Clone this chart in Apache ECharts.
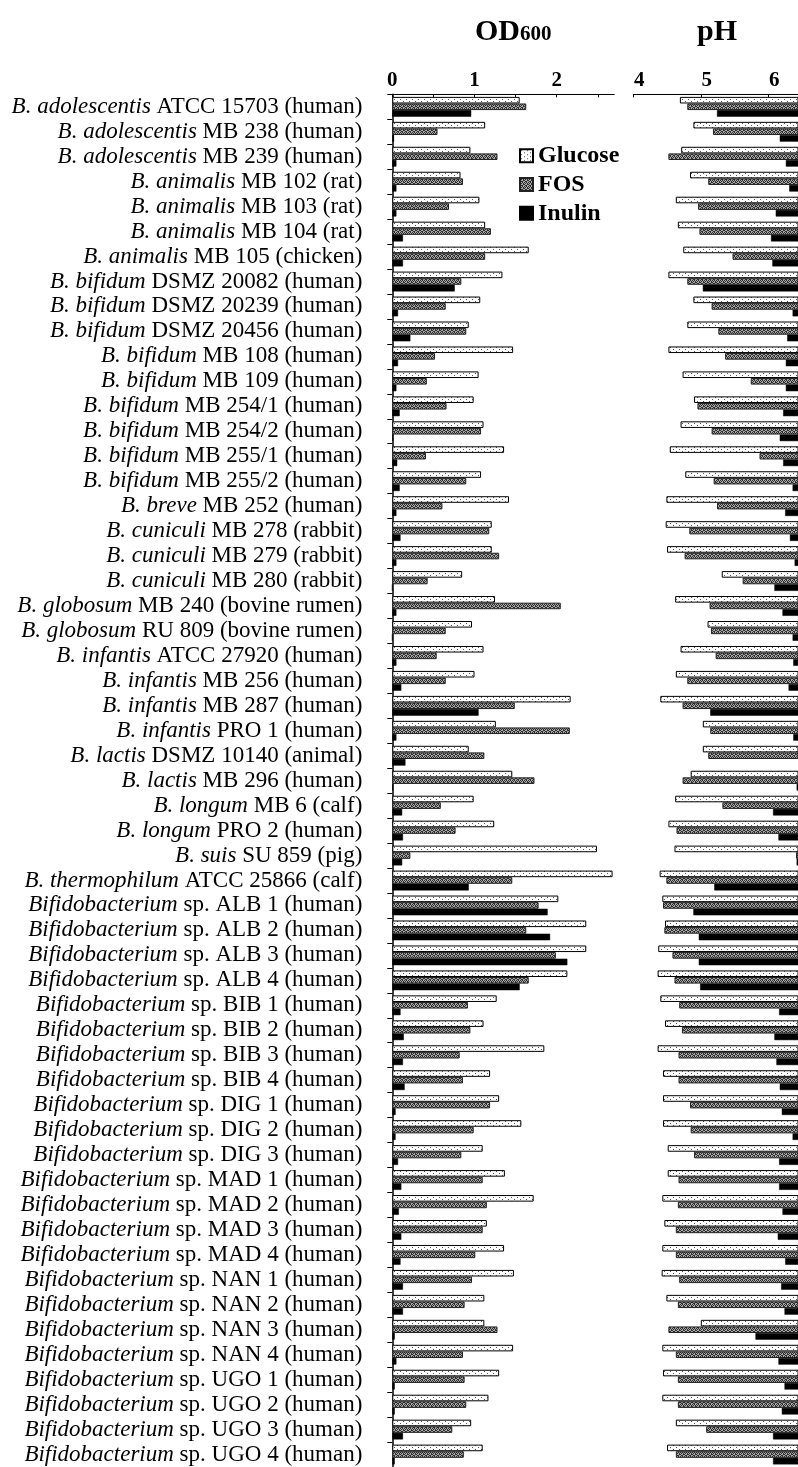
<!DOCTYPE html>
<html><head><meta charset="utf-8">
<script src="https://cdn.jsdelivr.net/npm/echarts@6/dist/echarts.min.js"></script>
<style>html,body{margin:0;padding:0;background:#fff}#c{width:798px;height:1467px}</style>
</head><body><div id="c"></div><script>
// ---- DATA ----
const species = ['B. adolescentis','B. adolescentis','B. adolescentis','B. animalis','B. animalis','B. animalis','B. animalis',
 'B. bifidum','B. bifidum','B. bifidum','B. bifidum','B. bifidum','B. bifidum','B. bifidum','B. bifidum','B. bifidum',
 'B. breve','B. cuniculi','B. cuniculi','B. cuniculi','B. globosum','B. globosum','B. infantis','B. infantis','B. infantis','B. infantis',
 'B. lactis','B. lactis','B. longum','B. longum','B. suis','B. thermophilum',
 'Bifidobacterium','Bifidobacterium','Bifidobacterium','Bifidobacterium','Bifidobacterium','Bifidobacterium','Bifidobacterium','Bifidobacterium',
 'Bifidobacterium','Bifidobacterium','Bifidobacterium','Bifidobacterium','Bifidobacterium','Bifidobacterium','Bifidobacterium',
 'Bifidobacterium','Bifidobacterium','Bifidobacterium','Bifidobacterium','Bifidobacterium','Bifidobacterium','Bifidobacterium','Bifidobacterium'];
const strains = ['ATCC 15703 (human)','MB 238 (human)','MB 239 (human)','MB 102 (rat)','MB 103 (rat)','MB 104 (rat)','MB 105 (chicken)',
 'DSMZ 20082 (human)','DSMZ 20239 (human)','DSMZ 20456 (human)','MB 108 (human)','MB 109 (human)','MB 254/1 (human)','MB 254/2 (human)','MB 255/1 (human)','MB 255/2 (human)',
 'MB 252 (human)','MB 278 (rabbit)','MB 279 (rabbit)','MB 280 (rabbit)','MB 240 (bovine rumen)','RU 809 (bovine rumen)','ATCC 27920 (human)','MB 256 (human)','MB 287 (human)','PRO 1 (human)',
 'DSMZ 10140 (animal)','MB 296 (human)','MB 6 (calf)','PRO 2 (human)','SU 859 (pig)','ATCC 25866 (calf)',
 'sp. ALB 1 (human)','sp. ALB 2 (human)','sp. ALB 3 (human)','sp. ALB 4 (human)','sp. BIB 1 (human)','sp. BIB 2 (human)','sp. BIB 3 (human)','sp. BIB 4 (human)',
 'sp. DIG 1 (human)','sp. DIG 2 (human)','sp. DIG 3 (human)','sp. MAD 1 (human)','sp. MAD 2 (human)','sp. MAD 3 (human)','sp. MAD 4 (human)',
 'sp. NAN 1 (human)','sp. NAN 2 (human)','sp. NAN 3 (human)','sp. NAN 4 (human)','sp. UGO 1 (human)','sp. UGO 2 (human)','sp. UGO 3 (human)','sp. UGO 4 (human)'];
const odGlucose = [1.55,1.13,0.95,0.83,1.06,1.13,1.66,1.34,1.07,0.93,1.47,1.05,0.99,1.11,1.36,1.08,1.42,1.21,1.21,0.85,1.25,0.97,1.11,1.00,2.17,1.26,0.93,1.46,0.99,1.24,2.49,2.68,2.02,2.36,2.36,2.13,1.27,1.11,1.85,1.19,1.30,1.57,1.10,1.37,1.72,1.15,1.36,1.48,1.12,1.12,1.47,1.30,1.17,0.96,1.10];
const odFOS = [1.63,0.55,1.28,0.86,0.69,1.20,1.13,0.84,0.65,0.90,0.52,0.42,0.66,1.08,0.41,0.90,0.61,1.18,1.30,0.43,2.05,0.65,0.54,0.65,1.49,2.16,1.12,1.73,0.59,0.77,0.22,1.46,1.78,1.63,1.99,1.66,0.92,0.95,0.82,0.86,1.19,0.99,0.84,1.10,1.15,1.10,1.01,0.97,0.88,1.28,0.86,0.88,0.90,0.73,0.87];
const odInulin = [0.96,0.02,0.05,0.05,0.05,0.13,0.13,0.76,0.07,0.22,0.07,0.05,0.09,0.01,0.06,0.09,0.05,0.10,0.05,0.00,0.05,0.00,0.05,0.11,1.05,0.05,0.16,0.01,0.12,0.13,0.12,0.93,1.89,1.92,2.13,1.55,0.10,0.14,0.13,0.15,0.04,0.04,0.07,0.11,0.08,0.11,0.10,0.13,0.13,0.03,0.05,0.03,0.03,0.13,0.03];
const phGlucose = [4.69,4.89,4.71,4.84,4.63,4.66,4.74,4.52,4.89,4.80,4.52,4.73,4.90,4.70,4.54,4.77,4.49,4.48,4.50,5.31,4.62,5.10,4.70,4.63,4.40,5.03,5.03,4.85,4.62,4.52,4.61,4.39,4.43,4.47,4.37,4.36,4.40,4.47,4.36,4.44,4.44,4.44,4.51,4.51,4.43,4.46,4.43,4.42,4.49,5.00,4.43,4.44,4.43,4.63,4.50];
const phFOS = [4.80,5.18,4.52,5.11,4.96,4.98,5.47,4.80,5.16,5.26,5.36,5.74,4.95,5.16,5.87,5.19,5.24,4.83,4.76,5.62,5.13,5.15,5.22,4.80,4.73,5.14,5.11,4.73,5.32,4.64,6.41,4.49,4.44,4.46,4.58,4.61,4.68,4.72,4.67,4.67,4.84,4.85,4.90,4.67,4.66,4.63,4.63,4.68,4.66,4.52,4.63,4.66,4.66,5.08,4.63];
const phInulin = [5.24,6.17,6.26,6.31,6.11,6.04,6.06,5.03,6.36,6.28,6.26,6.26,6.22,6.17,6.22,6.36,6.25,6.32,6.39,6.09,6.21,6.36,6.37,6.30,5.14,6.37,6.50,6.42,6.07,6.15,6.42,5.20,4.89,4.97,4.97,4.99,6.16,6.09,6.12,6.17,6.20,6.36,6.16,6.16,6.21,6.14,6.25,6.19,6.24,5.81,6.15,6.24,6.20,6.07,6.07];
const phStart = 7;           // pH bars run from the measured value up to this reference pH (beyond the visible edge)
const odTicks = [0,0.5,1,1.5,2,2.5];
const odLabels = [0,1,2];
const phTicks = [4,5,6];
const phLabels = [4,5,6];
const seriesNames = ['Glucose','FOS','Inulin'];
const categories = species.map((s,i)=> s + ' ' + strains[i]);

// ---- STYLE ----
function pattern(w,h,bg,fg,pts){
  const c=document.createElement('canvas'); c.width=w; c.height=h;
  const g=c.getContext('2d'); g.fillStyle=bg; g.fillRect(0,0,w,h);
  g.fillStyle=fg; pts.forEach(p=>g.fillRect(p[0],p[1],1,1));
  return {image:c, repeat:'repeat'};
}
const glucoseFill = pattern(6,4,'#ffffff','#555555',[[1,1],[4,3]]);
const fosFill = pattern(4,4,'#a8a8a8','#303030',[[0,0],[2,0],[1,1],[3,1],[0,2],[2,3],[3,2],[1,3]]);
const styles = [
  {color: glucoseFill, borderColor:'#000', borderWidth:1},
  {color: fosFill, borderColor:'#222', borderWidth:1},
  {color: '#000', borderColor:'#000', borderWidth:0.5}
];
const FONT = '"Liberation Serif", "Times New Roman", serif';
const BW = 6.6;

const odData = [odGlucose, odFOS, odInulin];
const phData = [phGlucose, phFOS, phInulin];
const series = [];
seriesNames.forEach((n,k)=>{
  series.push({name:n, type:'bar', xAxisIndex:0, yAxisIndex:0, data: odData[k], barWidth:BW, barGap:'0%',
    itemStyle: styles[k], silent:true, animation:false});
});
seriesNames.forEach((n,k)=>{
  series.push({name:'base'+k, type:'bar', stack:'s'+k, xAxisIndex:1, yAxisIndex:1, data: phData[k], barWidth:BW, barGap:'0%',
    itemStyle:{color:'rgba(0,0,0,0)'}, silent:true, animation:false});
  series.push({name:n, type:'bar', stack:'s'+k, xAxisIndex:1, yAxisIndex:1, data: phData[k].map(v=>phStart - v), barWidth:BW, barGap:'0%',
    itemStyle: styles[k], silent:true, animation:false});
});

const top0 = 94.3, rowH = 25;
const phLeft = 633.3, phUnit = 67.5;
const phMax = 4 + (798 - phLeft) / phUnit;   // axis visible up to the right edge of the page
const chart = echarts.init(document.getElementById('c'), null, {renderer:'canvas'});
chart.setOption({
  animation:false,
  backgroundColor:'#fff',
  graphic:[
    {type:'text', left:475, top:17, style:{text:'OD', font:'bold 30px '+FONT, fill:'#000'}},
    {type:'text', left:520, top:24, style:{text:'600', font:'bold 21px '+FONT, fill:'#000'}},
    {type:'text', left:697, top:17, style:{text:'pH', font:'bold 30px '+FONT, fill:'#000'}}
  ],
  legend:{
    data: seriesNames, orient:'vertical', left:519, top:143.7, padding:0, itemWidth:13, itemHeight:13, itemGap:4.8,
    icon:'rect', selectedMode:false,
    textStyle:{fontFamily:FONT, fontWeight:'bold', fontSize:24, lineHeight:24, color:'#000'}
  },
  grid:[
    {left:392.3, top:top0, width:221.9, height:rowH*categories.length},
    {left:phLeft, top:top0, width:798 - phLeft, height:rowH*categories.length}
  ],
  xAxis:[
    {type:'value', gridIndex:0, position:'top', min:0, max:2.7,
      axisLine:{show:true, lineStyle:{color:'#000', width:1}},
      axisTick:{show:true, inside:true, length:3, customValues:odTicks, lineStyle:{color:'#000'}},
      axisLabel:{customValues:odLabels, fontFamily:FONT, fontWeight:'bold', fontSize:21, color:'#000', margin:3},
      splitLine:{show:false}},
    {type:'value', gridIndex:1, position:'top', min:4, max:phMax,
      axisLine:{show:true, lineStyle:{color:'#000', width:1}},
      axisTick:{show:true, inside:true, length:3, customValues:phTicks, lineStyle:{color:'#000'}},
      axisLabel:{customValues:phLabels, fontFamily:FONT, fontWeight:'bold', fontSize:21, color:'#000', margin:3, padding:[0,0,0,12]},
      splitLine:{show:false}}
  ],
  yAxis:[
    {type:'category', gridIndex:0, data:categories, inverse:true,
      axisLine:{show:true, lineStyle:{color:'#000', width:1.5}},
      axisTick:{show:true, length:5, interval:0, lineStyle:{color:'#000'}},
      axisLabel:{interval:0, margin:30, color:'#000',
        formatter:(v,i)=>'{i|'+species[i]+'}{r| '+strains[i]+'}',
        rich:{i:{fontFamily:FONT, fontStyle:'italic', fontSize:23, color:'#000'},
              r:{fontFamily:FONT, fontSize:23, color:'#000'}}}},
    {type:'category', gridIndex:1, data:categories, inverse:true, show:false}
  ],
  series: series
});
</script></body></html>
